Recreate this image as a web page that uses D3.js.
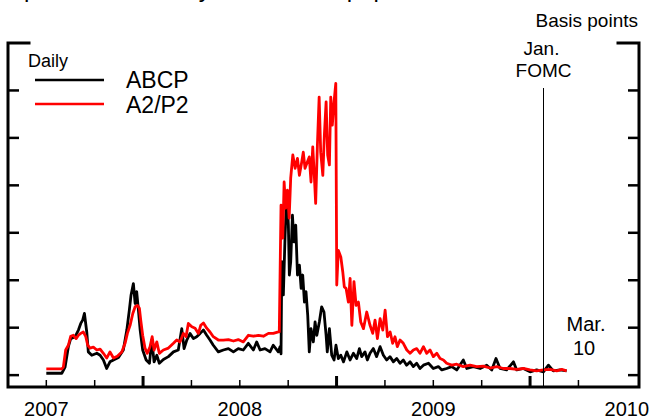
<!DOCTYPE html>
<html>
<head>
<meta charset="utf-8">
<script src="https://cdn.jsdelivr.net/npm/d3@7"></script>
<style>
  html, body { margin: 0; padding: 0; background: #fff; }
  svg { display: block; font-family: "Liberation Sans", Arial, sans-serif; }
</style>
</head>
<body>
<div id="chart"></div>
<script>
// Spreads on 30-day commercial paper, basis points, daily.
// Dates are decimal years.
const yearLabels = [2007, 2008, 2009, 2010];
const yTicks = [0, 100, 200, 300, 400, 500, 600, 700];
const fomcDate = 2010.067;

const abcp = [
  [2007.50, 4], [2007.58, 4], [2007.597, 17], [2007.614, 60], [2007.626, 77], [2007.649, 81],
  [2007.666, 95], [2007.678, 109], [2007.688, 116], [2007.697, 130], [2007.709, 91], [2007.717, 49],
  [2007.735, 42], [2007.761, 46], [2007.778, 42], [2007.795, 32], [2007.812, 14], [2007.829, 28],
  [2007.847, 32], [2007.873, 37], [2007.898, 53], [2007.916, 95], [2007.929, 137], [2007.938, 169],
  [2007.950, 193], [2007.959, 151], [2007.967, 176], [2007.976, 137], [2007.985, 95], [2007.998, 53],
  [2008.016, 32], [2008.033, 25], [2008.045, 74], [2008.057, 28], [2008.071, 42], [2008.084, 25],
  [2008.105, 33], [2008.131, 39], [2008.157, 49], [2008.182, 53], [2008.200, 98], [2008.212, 56],
  [2008.226, 74], [2008.243, 88], [2008.260, 77], [2008.277, 81], [2008.295, 88], [2008.312, 95],
  [2008.329, 84], [2008.346, 74], [2008.363, 63], [2008.389, 49], [2008.415, 53], [2008.441, 56],
  [2008.467, 49], [2008.492, 56], [2008.518, 53], [2008.544, 67], [2008.570, 53], [2008.587, 70],
  [2008.605, 53], [2008.630, 56], [2008.656, 49], [2008.673, 63], [2008.699, 49], [2008.708, 60],
  [2008.713, 45], [2008.717, 239], [2008.725, 169], [2008.734, 295], [2008.743, 386], [2008.751, 316],
  [2008.756, 211], [2008.763, 239], [2008.772, 337], [2008.780, 281], [2008.789, 316], [2008.798, 211],
  [2008.808, 232], [2008.817, 183], [2008.825, 211], [2008.834, 154], [2008.842, 176], [2008.851, 126],
  [2008.859, 49], [2008.868, 98], [2008.880, 70], [2008.889, 112], [2008.898, 84], [2008.911, 112],
  [2008.923, 144], [2008.935, 133], [2008.946, 84], [2008.952, 49], [2008.963, 98], [2008.975, 42],
  [2008.987, 32], [2008.997, 63], [2009.009, 35], [2009.022, 42], [2009.036, 28], [2009.053, 49],
  [2009.070, 32], [2009.087, 46], [2009.104, 35], [2009.118, 56], [2009.130, 39], [2009.147, 49],
  [2009.159, 32], [2009.173, 46], [2009.190, 56], [2009.207, 39], [2009.225, 60], [2009.242, 42],
  [2009.259, 32], [2009.276, 39], [2009.294, 28], [2009.311, 35], [2009.328, 25], [2009.345, 32],
  [2009.362, 21], [2009.380, 28], [2009.397, 18], [2009.414, 25], [2009.431, 14], [2009.449, 21],
  [2009.475, 25], [2009.500, 14], [2009.526, 18], [2009.544, 11], [2009.569, 14], [2009.595, 18],
  [2009.621, 11], [2009.655, 32], [2009.673, 14], [2009.707, 18], [2009.742, 14], [2009.776, 21],
  [2009.802, 11], [2009.824, 35], [2009.845, 14], [2009.879, 11], [2009.914, 28], [2009.931, 11],
  [2009.965, 14], [2010.000, 7], [2010.034, 11], [2010.069, 7], [2010.095, 21], [2010.120, 9],
  [2010.155, 11], [2010.189, 9]
];

const a2p2 = [
  [2007.50, 13], [2007.58, 13], [2007.588, 17], [2007.600, 53], [2007.614, 63], [2007.626, 82],
  [2007.640, 84], [2007.654, 77], [2007.666, 84], [2007.678, 88], [2007.691, 91], [2007.704, 81],
  [2007.714, 63], [2007.726, 57], [2007.743, 59], [2007.761, 53], [2007.778, 55], [2007.795, 46],
  [2007.812, 36], [2007.829, 49], [2007.847, 36], [2007.867, 40], [2007.890, 49], [2007.907, 67],
  [2007.919, 88], [2007.933, 105], [2007.947, 130], [2007.959, 144], [2007.971, 147], [2007.981, 141],
  [2007.988, 116], [2007.998, 84], [2008.010, 57], [2008.022, 46], [2008.036, 60], [2008.047, 81],
  [2008.057, 53], [2008.071, 70], [2008.084, 46], [2008.105, 53], [2008.131, 57], [2008.157, 67],
  [2008.174, 74], [2008.191, 70], [2008.208, 88], [2008.222, 81], [2008.234, 109], [2008.252, 102],
  [2008.269, 99], [2008.286, 88], [2008.298, 105], [2008.312, 110], [2008.329, 99], [2008.346, 91],
  [2008.363, 81], [2008.389, 74], [2008.415, 74], [2008.441, 75], [2008.467, 72], [2008.492, 75],
  [2008.518, 70], [2008.544, 84], [2008.570, 82], [2008.596, 84], [2008.622, 82], [2008.648, 88],
  [2008.673, 88], [2008.699, 91], [2008.704, 91], [2008.713, 358], [2008.722, 289], [2008.729, 407],
  [2008.737, 352], [2008.746, 390], [2008.755, 331], [2008.763, 415], [2008.774, 464], [2008.786, 436],
  [2008.798, 457], [2008.808, 421], [2008.820, 449], [2008.828, 470], [2008.837, 436], [2008.849, 449],
  [2008.859, 460], [2008.868, 407], [2008.877, 481], [2008.885, 421], [2008.892, 362], [2008.901, 485],
  [2008.910, 586], [2008.918, 470], [2008.929, 421], [2008.937, 506], [2008.946, 576], [2008.954, 464],
  [2008.963, 443], [2008.970, 586], [2008.978, 527], [2008.987, 576], [2008.996, 615], [2009.001, 190],
  [2009.009, 263], [2009.022, 249], [2009.032, 218], [2009.040, 186], [2009.049, 183], [2009.061, 154],
  [2009.070, 204], [2009.079, 105], [2009.090, 197], [2009.101, 147], [2009.113, 154], [2009.125, 112],
  [2009.139, 98], [2009.156, 133], [2009.173, 105], [2009.187, 88], [2009.199, 116], [2009.211, 77],
  [2009.225, 119], [2009.239, 95], [2009.251, 137], [2009.263, 81], [2009.277, 91], [2009.290, 67],
  [2009.302, 81], [2009.314, 60], [2009.328, 74], [2009.345, 67], [2009.363, 53], [2009.380, 46],
  [2009.397, 53], [2009.414, 56], [2009.431, 46], [2009.449, 60], [2009.466, 46], [2009.483, 53],
  [2009.500, 39], [2009.518, 46], [2009.535, 35], [2009.552, 32], [2009.569, 25], [2009.595, 21],
  [2009.621, 23], [2009.655, 18], [2009.690, 21], [2009.724, 18], [2009.759, 19], [2009.793, 15],
  [2009.828, 18], [2009.862, 14], [2009.897, 14], [2009.931, 12], [2009.965, 14], [2010.000, 11],
  [2010.034, 9], [2010.069, 11], [2010.103, 12], [2010.138, 9], [2010.164, 12], [2010.189, 9]
];

const series = [
  { name: 'ABCP', color: '#000', data: abcp },
  { name: 'A2/P2', color: '#ff0000', data: a2p2 }
];

const width = 650;
const height = 419;
const plotLeft = 8, plotRight = 639, plotTop = 43, plotBottom = 387;

const x = d3.scaleLinear().domain([2007.302, 2010.563]).range([plotLeft, plotRight]);
const y = d3.scaleLinear().domain([-25, 700]).range([plotBottom, plotTop]);

const svg = d3.select('#chart').append('svg')
  .attr('width', width)
  .attr('height', height);

// title, mostly cut off at the top edge
svg.append('text')
  .attr('x', 8).attr('y', -3)
  .attr('font-size', 24)
  .text('Spreads on 30-day commercial paper');

svg.append('text')
  .attr('x', 638).attr('y', 27)
  .attr('text-anchor', 'end')
  .attr('font-size', 19)
  .text('Basis points');

// series
const line = d3.line()
  .x(d => x(d[0]))
  .y(d => y(d[1]));

series.forEach(s => {
  svg.append('path')
    .datum(s.data)
    .attr('fill', 'none')
    .attr('stroke', s.color)
    .attr('stroke-width', 2.8)
    .attr('stroke-linejoin', 'round')
    .attr('d', line);
});

// Jan. FOMC marker (snapped to a pixel so it stays crisp)
const fomcX = Math.round(x(fomcDate)) + 0.5;
svg.append('line')
  .attr('x1', fomcX).attr('x2', fomcX)
  .attr('y1', 88).attr('y2', plotBottom)
  .attr('stroke', '#000')
  .attr('stroke-width', 1);

svg.append('text')
  .attr('x', fomcX - 2).attr('y', 55)
  .attr('text-anchor', 'middle')
  .attr('font-size', 19)
  .text('Jan.');
svg.append('text')
  .attr('x', fomcX).attr('y', 77)
  .attr('text-anchor', 'middle')
  .attr('font-size', 19)
  .text('FOMC');

svg.append('text')
  .attr('x', 586).attr('y', 331)
  .attr('text-anchor', 'middle')
  .attr('font-size', 20)
  .text('Mar.');
svg.append('text')
  .attr('x', 584).attr('y', 355)
  .attr('text-anchor', 'middle')
  .attr('font-size', 20)
  .text('10');

// frame: side axes with bracket arms, full bottom axis
const frame = svg.append('g')
  .attr('stroke', '#000')
  .attr('stroke-width', 3)
  .attr('fill', 'none');

frame.append('path')
  .attr('d', `M${plotLeft + 21},${plotTop}H${plotLeft}V${plotBottom}H${plotRight}V${plotTop}H${plotRight - 21}`)
  .attr('stroke-linecap', 'square');

// y ticks inside, both sides
yTicks.filter(v => v < 700).forEach(v => {
  frame.append('line')
    .attr('x1', plotLeft).attr('x2', plotLeft + 11)
    .attr('y1', y(v)).attr('y2', y(v))
    .attr('stroke-width', 2.5);
  frame.append('line')
    .attr('x1', plotRight - 11).attr('x2', plotRight)
    .attr('y1', y(v)).attr('y2', y(v))
    .attr('stroke-width', 2.5);
});

// x ticks: quarters small, year boundaries long
const quarters = d3.range(2007.5, 2010.5, 0.25);
quarters.forEach(q => {
  const major = Math.abs(q - Math.round(q)) < 1e-6;
  frame.append('line')
    .attr('x1', x(q)).attr('x2', x(q))
    .attr('y1', plotBottom).attr('y2', plotBottom - (major ? 11 : 7))
    .attr('stroke-width', major ? 3 : 1.5);
});

svg.selectAll('.year')
  .data(yearLabels)
  .join('text')
  .attr('class', 'year')
  .attr('x', d => x(d + 0.5))
  .attr('y', 416)
  .attr('text-anchor', 'middle')
  .attr('font-size', 20)
  .text(d => d);

// legend
svg.append('text')
  .attr('x', 28).attr('y', 67)
  .attr('font-size', 18)
  .text('Daily');

series.forEach((s, i) => {
  const ly = 80 + i * 24;
  svg.append('line')
    .attr('x1', 35).attr('x2', 104)
    .attr('y1', ly).attr('y2', ly)
    .attr('stroke', s.color)
    .attr('stroke-width', 2.5);
  svg.append('text')
    .attr('x', 126).attr('y', 88 + i * 25)
    .attr('font-size', 23)
    .text(s.name);
});
</script>
</body>
</html>
